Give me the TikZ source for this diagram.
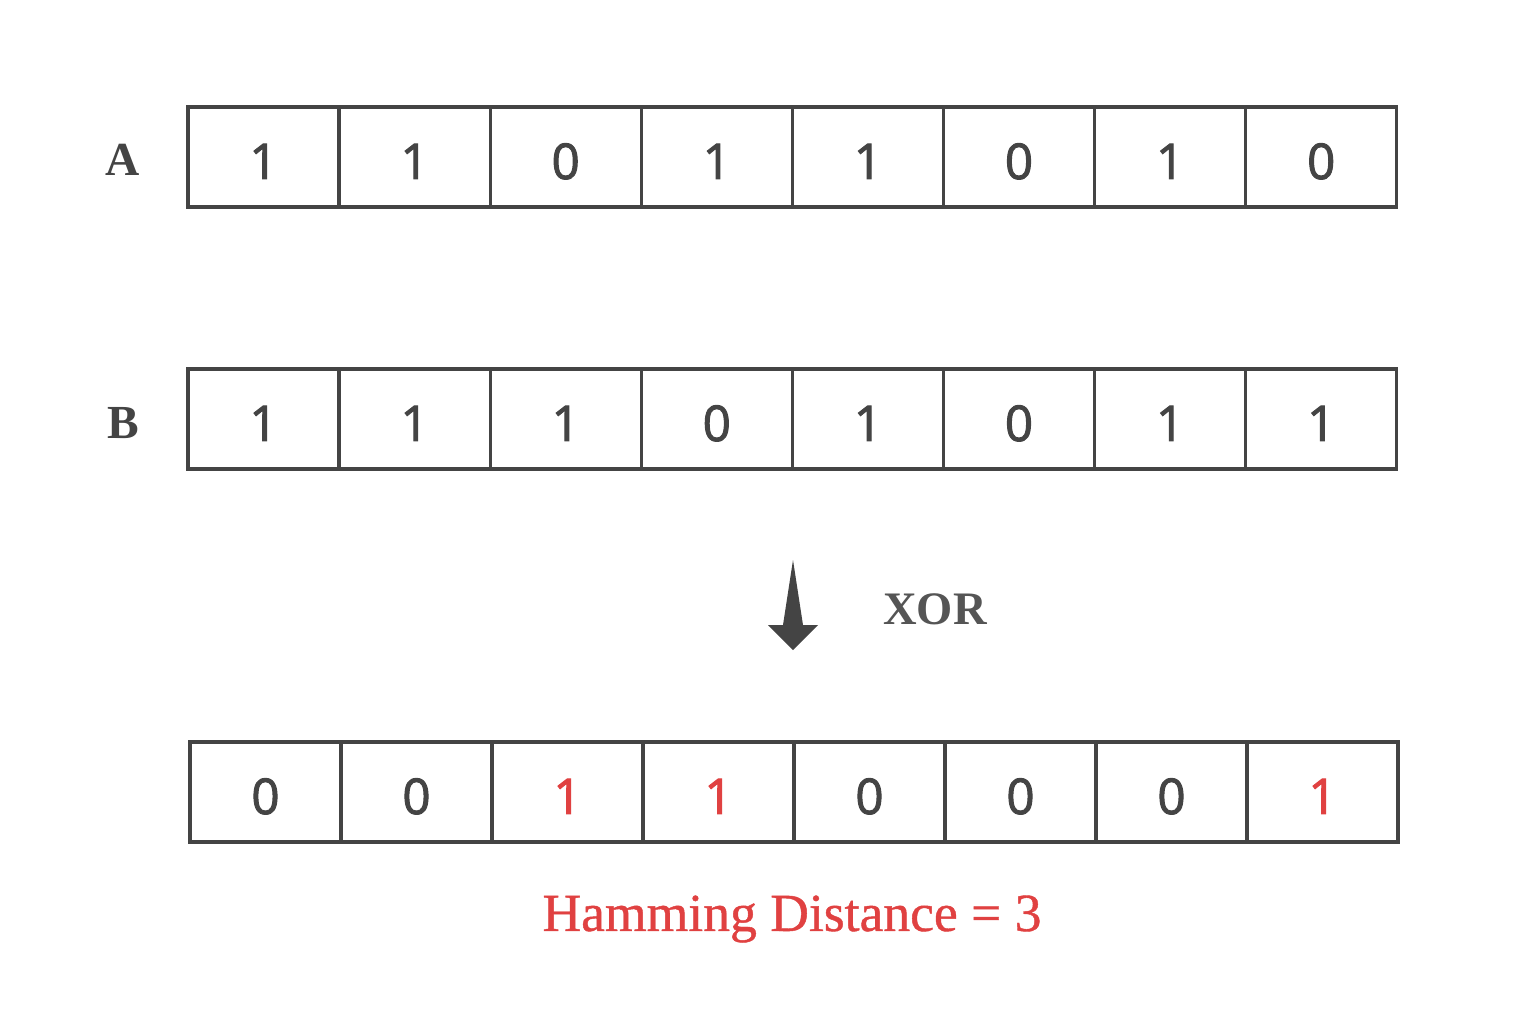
\documentclass[tikz,border=0pt]{standalone}
\usepackage{fontspec}
\setmainfont{Liberation Serif}
\newfontfamily\digitfont[FakeBold=2]{Open Sans}
\newfontfamily\distfont[FakeBold=0.8]{Liberation Serif}
\definecolor{boxgray}{HTML}{444444}
\definecolor{xorgray}{HTML}{555555}
\definecolor{hamred}{HTML}{E04141}
\begin{document}
\begin{tikzpicture}[x=0.02cm,y=-0.02cm,
bitbox/.style={draw=boxgray, line width=1.8pt, minimum width=3.02cm, minimum height=2cm, inner sep=0pt, text height=25pt, text depth=0pt, font=\digitfont\fontsize{28}{32}\selectfont, text=boxgray},
rowlabel/.style={font=\bfseries\fontsize{27}{30}\selectfont, text=boxgray}
]
\useasboundingbox (0,0) rectangle (1522,1019);

% row A
\foreach \bit [count=\i] in {1,1,0,1,1,0,1,0}
  \node[bitbox] (a\i) at (263.5+151.1*\i-151.1, 157) {\bit};
\node[rowlabel] (labA) at (123, 160) {A};

% row B
\foreach \bit [count=\i] in {1,1,1,0,1,0,1,1}
  \node[bitbox] (b\i) at (263.5+151.1*\i-151.1, 419) {\bit};
\node[rowlabel] (labB) at (123, 423) {B};

% xor arrow
\fill[boxgray] (793,560) -- (803,625) -- (818,625) -- (793,650) -- (768,625) -- (783,625) -- cycle;
\node[font=\bfseries\fontsize{26.5}{30}\selectfont, text=xorgray] (xor) at (935, 609) {XOR};

% result
\foreach \bit/\col [count=\i] in {0/boxgray,0/boxgray,1/hamred,1/hamred,0/boxgray,0/boxgray,0/boxgray,1/hamred}
  \node[bitbox, text=\col] (c\i) at (265.5+151*\i-151, 792) {\bit};
\node[font=\distfont\fontsize{30.5}{34}\selectfont, text=hamred] (dist) at (792, 919) {Hamming Distance = 3};

\end{tikzpicture}
\end{document}
